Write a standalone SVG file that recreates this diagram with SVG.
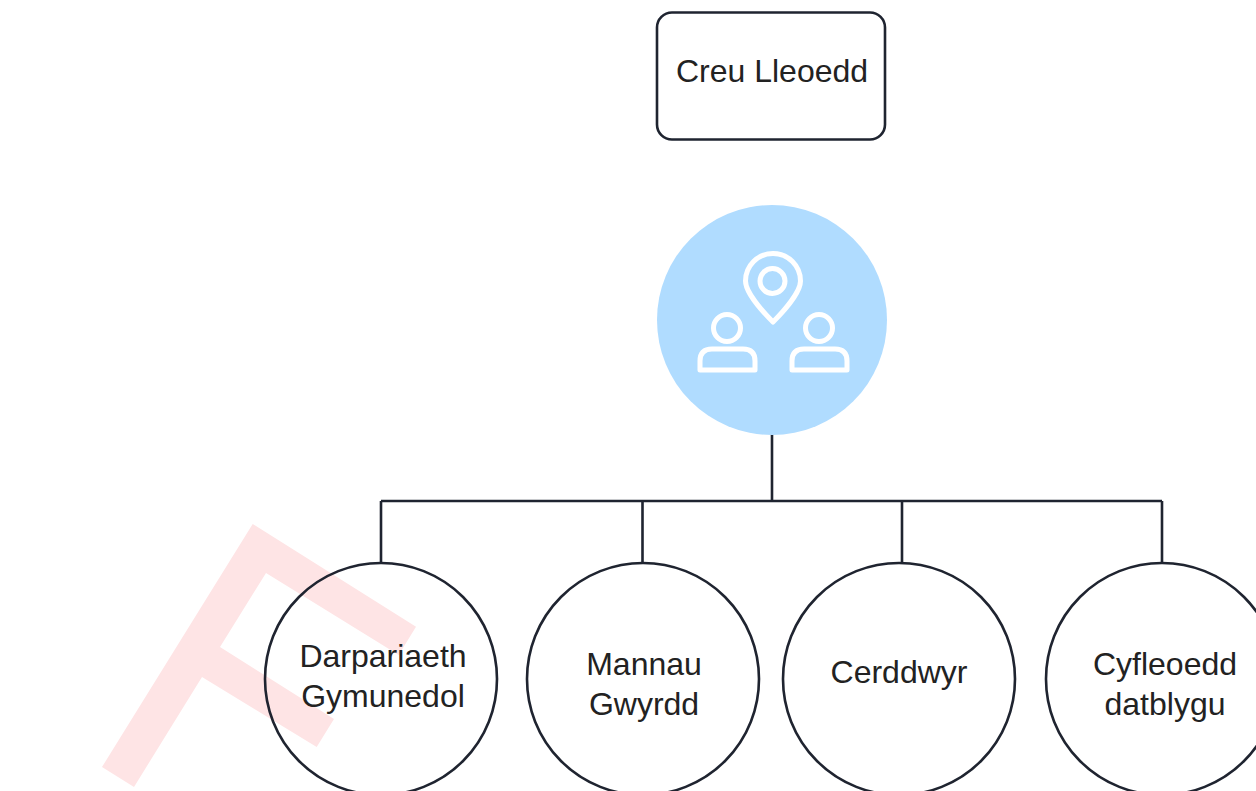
<svg xmlns="http://www.w3.org/2000/svg" width="1256" height="791" viewBox="0 0 1256 791">
<style>
.n{fill:none;stroke:#1f2430;stroke-width:2.6}
.c{fill:none;stroke:#1f2430;stroke-width:2.6}
.t{font-family:"Liberation Sans",Arial,sans-serif;font-size:32px;fill:#222;text-anchor:middle}
.i{fill:none;stroke:#fff;stroke-width:5;stroke-linejoin:round}
</style>
<rect width="1256" height="791" fill="#fff"/>
<polygon id="watermark" points="252.700,524 416,626.700 398.700,655 266,573 220,647 334,719 316.700,747 202,677 134,787 102,767" fill="#fee4e5"/>
<g id="connectors">
<path class="c" d="M772 434V501M381 501H1162M381 501V563M642.500 501V563M902 501V563M1162 501V563"/>
</g>
<g id="node-top"><rect class="n" x="657" y="12.500" width="228" height="127" rx="15"/><text class="t" x="772" y="82">Creu Lleoedd</text></g>
<g id="node-icon">
<circle cx="772" cy="320" r="115" fill="#b0dcff"/>
<path class="i" d="M773 322C762 311 745.500 292 745.500 281A27.500 27.500 0 0 1 800.500 281C800.500 292 784 311 773 322Z"/>
<circle class="i" cx="772.500" cy="281" r="12.500"/>
<circle class="i" cx="727" cy="328" r="13.500"/>
<path class="i" d="M700 370V361Q700 349 712 349H743Q755 349 755 361V370Z"/>
<circle class="i" cx="819" cy="328" r="13.500"/>
<path class="i" d="M792 370V361Q792 349 804 349H835Q847 349 847 361V370Z"/>
</g>
<g id="node-1"><circle class="n" cx="381" cy="679" r="116"/><text class="t" x="383" y="667">Darpariaeth</text><text class="t" x="383" y="707">Gymunedol</text></g>
<g id="node-2"><circle class="n" cx="643" cy="679" r="116"/><text class="t" x="644" y="675">Mannau</text><text class="t" x="644" y="715">Gwyrdd</text></g>
<g id="node-3"><circle class="n" cx="899" cy="679" r="116"/><text class="t" x="899" y="683">Cerddwyr</text></g>
<g id="node-4"><circle class="n" cx="1162" cy="679" r="116"/><text class="t" x="1165" y="675">Cyfleoedd</text><text class="t" x="1165" y="715">datblygu</text></g>
</svg>
